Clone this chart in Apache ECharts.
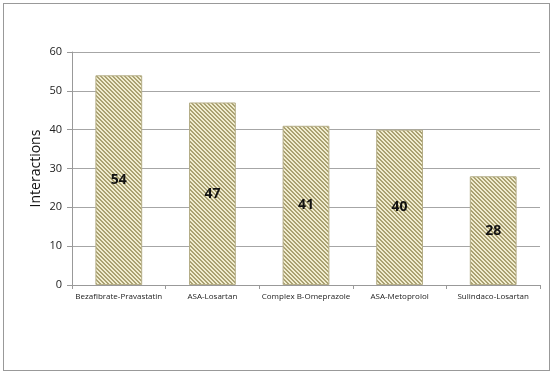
<!DOCTYPE html>
<html><head><meta charset="utf-8">
<script src="https://cdn.jsdelivr.net/npm/echarts@6/dist/echarts.min.js"></script>
<style>html,body{margin:0;padding:0;background:#fff}#c{width:552px;height:374px}
#frame{position:absolute;left:3px;top:3px;width:545px;height:366px;border:1px solid #999;pointer-events:none}</style>
</head><body><div id="c"></div><div id="frame"></div>
<script>
const categories = ['Bezafibrate-Pravastatin','ASA-Losartan','Complex B-Omeprazole','ASA-Metoprolol','Sulindaco-Losartan'];
const interactions = [54, 47, 41, 40, 28];
const yTicks = {min: 0, max: 60, interval: 10};

const pc = document.createElement('canvas');
pc.width = 4; pc.height = 4;
const ctx = pc.getContext('2d');
for (let y = 0; y < 4; y++) for (let x = 0; x < 4; x++) {
  const d = ((x - y) % 4 + 4) % 4;
  ctx.fillStyle = (d === 0 || d === 1) ? '#aaa172' : '#f1edd0';
  ctx.fillRect(x, y, 1, 1);
}

const chart = echarts.init(document.getElementById('c'));
chart.setOption({
  animation: false,
  backgroundColor: '#fff',
  grid: {left: 72, right: 12, top: 52, bottom: 89},
  xAxis: {
    type: 'category', data: categories,
    axisLine: {lineStyle: {color: '#999'}},
    axisTick: {show: true, alignWithLabel: false, length: 4, lineStyle: {color: '#999'}},
    axisLabel: {color: '#222', fontSize: 8, fontFamily: 'Open Sans', margin: 8, interval: 0}
  },
  yAxis: {
    type: 'value', min: yTicks.min, max: yTicks.max, interval: yTicks.interval,
    name: 'Interactions', nameLocation: 'middle', nameGap: 29, nameMoveOverlap: false,
    nameTextStyle: {fontSize: 14, color: '#111', fontFamily: 'Open Sans', fontWeight: 500},
    axisLine: {show: true, lineStyle: {color: '#999'}},
    axisTick: {show: true, length: 5, lineStyle: {color: '#999'}},
    splitLine: {lineStyle: {color: '#a6a6a6'}},
    axisLabel: {color: '#222', fontSize: 11, fontFamily: 'Open Sans', margin: 10}
  },
  series: [{
    type: 'bar', data: interactions, barWidth: '50%',
    itemStyle: {color: {image: pc, repeat: 'repeat'}, borderColor: '#b5ae88', borderWidth: 1},
    label: {show: true, position: 'inside', fontSize: 14, fontWeight: 'bold', color: '#111', fontFamily: 'Open Sans'}
  }]
});
</script></body></html>
